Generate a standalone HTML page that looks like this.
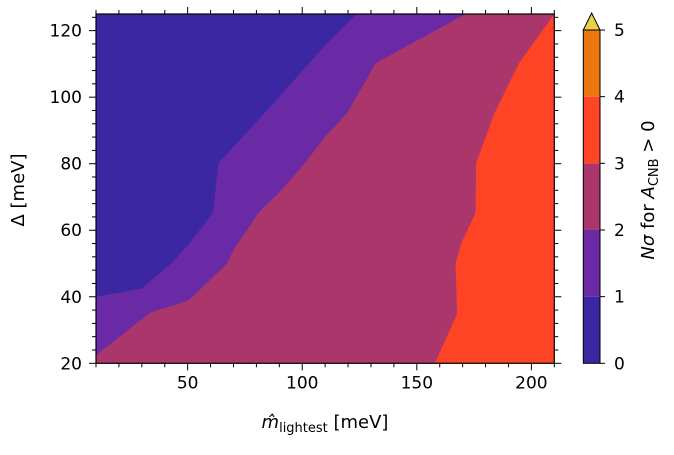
<!DOCTYPE html>
<html><head><meta charset="utf-8"><style>
body{margin:0;background:#fff;}
svg text{font-family:"DejaVu Sans","Liberation Sans",sans-serif;fill:#000;}
</style></head><body>
<svg id="c" width="674" height="450" viewBox="0 0 674 450" xmlns="http://www.w3.org/2000/svg">
<g id="plot"></g>
<g id="axes"></g>
<g id="cbar"></g>
<text x="325" y="428" font-size="18" text-anchor="middle"><tspan font-style="italic">m̂</tspan><tspan font-size="13" dy="4">lightest</tspan><tspan dy="-4"> [meV]</tspan></text>
<text transform="translate(24,190) rotate(-90)" font-size="18" text-anchor="middle">Δ [meV]</text>
<text transform="translate(654,190) rotate(-90)" font-size="18" text-anchor="middle"><tspan font-style="italic">Nσ</tspan> for <tspan font-style="italic">A</tspan><tspan font-size="13" dy="4">CNB</tspan><tspan dy="-4"> &gt; 0</tspan></text>
</svg>
<script>
const levels=[0,1,2,3,4,5];
const levelColors=["#3c27a2","#6a2aa5","#ab366b","#ff4425","#ee7611"];
const xTicks=[50,100,150,200];
const yTicks=[20,40,60,80,100,120];
const b01x=[10,30,43.1,50.4,61,63.5,88.2,110.1,123.5];
const b01y=[40,42.5,50.2,55.7,65.2,80.2,98.7,115.7,125];
const b12x=[10,33.6,50.4,67.1,70.3,80.9,89.7,100.6,110.1,119.6,132,171.3];
const b12y=[22.4,35.2,38.9,49.9,54.4,65.2,71.2,79.7,88.2,95.2,110.2,125];
const b23x=[157.9,167.6,166.9,169.5,175.6,175.9,183.9,194.6,210];
const b23y=[20,34.9,49.9,56.2,65.2,80.2,95.2,110.2,125];

const X0=10,X1=210,Y0=20,Y1=125,L=96,R=554.3,T=14,B=363.3;
const sx=v=>L+(v-X0)/(X1-X0)*(R-L);
const sy=v=>B-(v-Y0)/(Y1-Y0)*(B-T);
const NS="http://www.w3.org/2000/svg";
function mk(t,a,p){const e=document.createElementNS(NS,t);for(const k in a)e.setAttribute(k,a[k]);p.appendChild(e);return e;}
const plot=document.getElementById('plot'),axes=document.getElementById('axes'),cb=document.getElementById('cbar');
const pts=(xs,ys)=>xs.map((x,i)=>sx(x)+','+sy(ys[i]));
let r=mk('rect',{x:L,y:T,width:R-L,height:B-T,fill:levelColors[3]},plot);


let p2=mk('polygon',{fill:levelColors[2],points:[sx(X0)+','+sy(Y0)].concat(pts(b23x,b23y)).concat([sx(X0)+','+sy(Y1)]).join(' ')},plot);


let p1=mk('polygon',{fill:levelColors[1],points:pts(b12x,b12y).concat([sx(X0)+','+sy(Y1)]).join(' ')},plot);


let p0=mk('polygon',{fill:levelColors[0],points:pts(b01x,b01y).concat([sx(X0)+','+sy(Y1)]).join(' ')},plot);


mk('rect',{x:L,y:T,width:R-L,height:B-T,fill:'none',stroke:'#000','stroke-width':1.2},axes);
for(let v=10;v<=210;v+=10){const x=sx(v),maj=xTicks.includes(v),len=maj?7:4;
 mk('line',{x1:x,x2:x,y1:B,y2:B+len,stroke:'#000','stroke-width':1},axes);
 mk('line',{x1:x,x2:x,y1:T,y2:T-len,stroke:'#000','stroke-width':1},axes);}
xTicks.forEach(v=>{const t=mk('text',{x:sx(v),y:B+25,'font-size':17,'text-anchor':'middle'},axes);t.textContent=v;
 
 });
for(let v=20;v<=124;v+=4){const y=sy(v),maj=yTicks.includes(v),len=maj?7:4;
 mk('line',{x1:L,x2:L-len,y1:y,y2:y,stroke:'#000','stroke-width':1},axes);
 mk('line',{x1:R,x2:R+len,y1:y,y2:y,stroke:'#000','stroke-width':1},axes);}
yTicks.forEach(v=>{const t=mk('text',{x:L-14,y:sy(v)+6,'font-size':17,'text-anchor':'end'},axes);t.textContent=v;
 
 });
const cL=583.3,cR=600,cT=30,cB=363.3,cy=v=>cB-(v-levels[0])/(levels[5]-levels[0])*(cB-cT);
for(let i=0;i<5;i++){const s=mk('rect',{x:cL,y:cy(levels[i+1]),width:cR-cL,height:cy(levels[i])-cy(levels[i+1]),fill:levelColors[i]},cb);
 
 }
mk('polygon',{points:`${cL},${cT} ${(cL+cR)/2},13 ${cR},${cT}`,fill:'#e8d24a',stroke:'#000','stroke-width':1},cb);
mk('rect',{x:cL,y:cT,width:cR-cL,height:cB-cT,fill:'none',stroke:'#000','stroke-width':1},cb);
levels.forEach(v=>{mk('line',{x1:cR,x2:cR+5,y1:cy(v),y2:cy(v),stroke:'#000'},cb);
 const t=mk('text',{x:cR+14,y:cy(v)+6,'font-size':17},cb);t.textContent=v;
 
 });
</script>
</body></html>
